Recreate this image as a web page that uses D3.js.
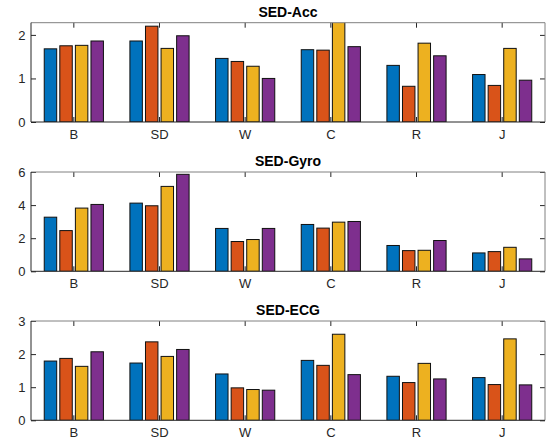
<!DOCTYPE html>
<html>
<head>
<meta charset="utf-8">
<script src="https://cdn.jsdelivr.net/npm/d3@7"></script>
<style>
    body { margin: 0; background: #fff; }
    svg { display: block; font-family: "Liberation Sans", Arial, sans-serif; }
</style>
</head>
<body>
<div id="chart"></div>
<script>
// Categories and series
const categories = ['B', 'SD', 'W', 'C', 'R', 'J'];
const seriesKeys = ['s1', 's2', 's3', 's4'];
const colors = ['#0072BD', '#D95319', '#EDB120', '#7E2F8E'];

// SED-Acc values, one array per series (B, SD, W, C, R, J)
const accS1 = [1.68, 1.86, 1.46, 1.66, 1.30, 1.09];
const accS2 = [1.75, 2.20, 1.39, 1.65, 0.82, 0.84];
const accS3 = [1.76, 1.69, 1.28, 2.45, 1.81, 1.69];
const accS4 = [1.86, 1.98, 1.00, 1.73, 1.52, 0.96];

// SED-Gyro values
const gyroS1 = [3.27, 4.12, 2.59, 2.83, 1.56, 1.11];
const gyroS2 = [2.46, 3.96, 1.80, 2.61, 1.25, 1.19];
const gyroS3 = [3.82, 5.13, 1.92, 2.97, 1.27, 1.45];
const gyroS4 = [4.04, 5.86, 2.59, 3.01, 1.86, 0.75];

// SED-ECG values
const ecgS1 = [1.79, 1.73, 1.40, 1.81, 1.33, 1.29];
const ecgS2 = [1.87, 2.37, 0.98, 1.66, 1.14, 1.08];
const ecgS3 = [1.63, 1.93, 0.93, 2.60, 1.72, 2.46];
const ecgS4 = [2.07, 2.14, 0.91, 1.38, 1.25, 1.07];

// Axis ticks
const accTicks = [0, 1, 2];
const gyroTicks = [0, 2, 4, 6];
const ecgTicks = [0, 1, 2, 3];

const panels = [
    { title: 'SED-Acc', series: [accS1, accS2, accS3, accS4], ymax: 2.28, ticks: accTicks, top: 22.7 },
    { title: 'SED-Gyro', series: [gyroS1, gyroS2, gyroS3, gyroS4], ymax: 6, ticks: gyroTicks, top: 172 },
    { title: 'SED-ECG', series: [ecgS1, ecgS2, ecgS3, ecgS4], ymax: 3, ticks: ecgTicks, top: 321 }
];

const width = 556, height = 438;
const left = 31, right = 545, plotH = 99.3;

const svg = d3.select('#chart').append('svg')
    .attr('width', width)
    .attr('height', height);

const x = d3.scaleBand().domain(categories).range([left, right]).paddingInner(0).paddingOuter(0);
const groupW = x.bandwidth() * 4 / 5.5;
const x1 = d3.scaleBand().domain(seriesKeys)
    .range([-groupW / 2, groupW / 2])
    .paddingInner(0.2).paddingOuter(0.1);

panels.forEach((p, pi) => {
    const top = p.top, bottom = top + plotH;
    const y = d3.scaleLinear().domain([0, p.ymax]).range([bottom, top]);
    const g = svg.append('g');

    // clip so tall bars are cut at the axes box
    const clipId = 'clip' + pi;
    g.append('clipPath').attr('id', clipId)
        .append('rect')
        .attr('x', left).attr('y', top)
        .attr('width', right - left).attr('height', plotH);

    // bottom axis (labels + inward ticks)
    const xAxis = g.append('g')
        .attr('transform', `translate(0,${bottom})`)
        .call(d3.axisBottom(x).tickSize(-5).tickPadding(7.8));
    xAxis.select('.domain').remove();
    xAxis.selectAll('line').attr('stroke', '#262626');
    xAxis.selectAll('text').attr('fill', '#262626').style('font-size', '13px');

    // top ticks
    const xTop = g.append('g')
        .attr('transform', `translate(0,${top})`)
        .call(d3.axisTop(x).tickSize(-5).tickFormat(''));
    xTop.select('.domain').remove();
    xTop.selectAll('line').attr('stroke', '#262626');

    // left axis
    const yAxis = g.append('g')
        .attr('transform', `translate(${left},0)`)
        .call(d3.axisLeft(y).tickValues(p.ticks).tickSize(-5).tickPadding(5.5).tickFormat(d3.format('d')));
    yAxis.select('.domain').remove();
    yAxis.selectAll('line').attr('stroke', '#262626');
    yAxis.selectAll('text').attr('fill', '#262626').style('font-size', '13px');

    // right ticks
    const yRight = g.append('g')
        .attr('transform', `translate(${right},0)`)
        .call(d3.axisRight(y).tickValues(p.ticks).tickSize(-5).tickFormat(''));
    yRight.select('.domain').remove();
    yRight.selectAll('line').attr('stroke', '#262626');

    // bars
    const rows = categories.map((c, ci) => ({
        cat: c,
        vals: seriesKeys.map((k, si) => ({ key: k, si: si, v: p.series[si][ci] }))
    }));

    g.append('g')
        .attr('clip-path', `url(#${clipId})`)
        .selectAll('g')
        .data(rows)
        .join('g')
        .attr('transform', d => `translate(${x(d.cat) + x.bandwidth() / 2},0)`)
        .selectAll('rect')
        .data(d => d.vals)
        .join('rect')
        .attr('x', d => x1(d.key))
        .attr('width', x1.bandwidth())
        .attr('y', d => y(d.v))
        .attr('height', d => y(0) - y(d.v))
        .attr('fill', d => colors[d.si])
        .attr('stroke', '#111')
        .attr('stroke-width', 1);

    // axes box
    g.append('line').attr('x1', left).attr('x2', right).attr('y1', top).attr('y2', top)
        .attr('stroke', '#808080');
    g.append('line').attr('x1', right).attr('x2', right).attr('y1', top).attr('y2', bottom)
        .attr('stroke', '#808080');
    g.append('line').attr('x1', left).attr('x2', left).attr('y1', top).attr('y2', bottom)
        .attr('stroke', '#262626');
    g.append('line').attr('x1', left).attr('x2', right).attr('y1', bottom).attr('y2', bottom)
        .attr('stroke', '#262626');

    // title
    g.append('text')
        .attr('x', (left + right) / 2)
        .attr('y', top - 6)
        .attr('text-anchor', 'middle')
        .style('font-size', '14px')
        .style('font-weight', 'bold')
        .attr('fill', '#000')
        .text(p.title);
});
</script>
</body>
</html>
